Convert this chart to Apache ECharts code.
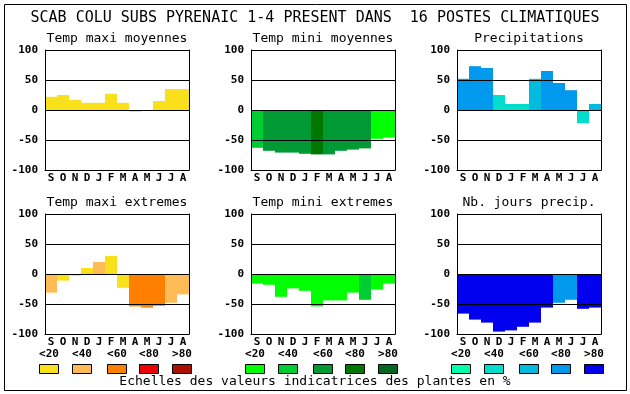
<!DOCTYPE html>
<html><head><meta charset="utf-8">
<script src="https://cdn.jsdelivr.net/npm/echarts@6/dist/echarts.min.js"></script>
<style>html,body{margin:0;padding:0;background:#fff}#c{width:630px;height:394px}</style>
</head><body><div id="c"></div>
<script>
const mainTitle = 'SCAB COLU SUBS PYRENAIC 1-4 PRESENT DANS  16 POSTES CLIMATIQUES';
const months = ['S','O','N','D','J','F','M','A','M','J','J','A'];
const panelTitles = ['Temp maxi moyennes','Temp mini moyennes','Precipitations','Temp maxi extremes','Temp mini extremes','Nb. jours precip.'];
const yMin = -100, yMax = 100, yStep = 50;
const legendLabels = ['<20','<40','<60','<80','>80'];
const footer = 'Echelles des valeurs indicatrices des plantes en %';

// values (% indicator)
const tmaxMoy = [22,25,17,12,12,27,12,-3,0,15,35,35];
const tmaxMoyCls = [0,0,0,0,0,0,0,0,0,0,0,0];
const tminMoy = [-63,-68,-71,-71,-73,-74,-74,-68,-66,-64,-48,-46];
const tminMoyCls = [1,2,2,2,2,3,2,2,2,2,0,0];
const precip = [52,73,70,25,10,10,52,65,45,33,-22,10];
const precipCls = [3,3,3,1,1,1,2,3,3,3,1,2];
const tmaxExt = [-31,-11,-3,10,20,30,-23,-54,-56,-53,-48,-34];
const tmaxExtCls = [1,0,0,0,1,0,0,2,2,2,1,1];
const tminExt = [-16,-18,-38,-24,-28,-54,-44,-44,-31,-43,-26,-16];
const tminExtCls = [0,0,0,0,0,0,0,0,0,1,0,0];
const nbJours = [-66,-76,-81,-96,-94,-88,-81,-56,-48,-43,-58,-56];
const nbJoursCls = [4,4,4,4,4,4,4,4,3,3,4,4];

const warm = ['#f8e11a','#ffbb55','#ff8000','#ee0000','#aa1100'];
const green = ['#00ff00','#00cc33','#009933','#007700','#006622'];
const blue = ['#00ffaa','#00ddcc','#00bbdd','#0099ee','#0000ee'];

const panels = [
  {vals: tmaxMoy, cls: tmaxMoyCls, pal: warm},
  {vals: tminMoy, cls: tminMoyCls, pal: green},
  {vals: precip, cls: precipCls, pal: blue},
  {vals: tmaxExt, cls: tmaxExtCls, pal: warm},
  {vals: tminExt, cls: tminExtCls, pal: green},
  {vals: nbJours, cls: nbJoursCls, pal: blue}
];

const FONT = '"DejaVu Sans Mono", "Liberation Mono", monospace';
const lefts = [45, 251, 457], tops = [50, 214], PW = 144, PH = 120;

const grid = [], xAxis = [], yAxis = [], series = [], graphic = [];
panels.forEach((p, i) => {
  const col = i % 3, row = Math.floor(i / 3);
  const L = lefts[col], T = tops[row];
  grid.push({left: L, top: T, width: PW, height: PH, show: false});
  xAxis.push({type: 'category', gridIndex: i, data: months, position: 'bottom',
    axisLine: {show: true, onZero: false, lineStyle: {color: '#000', width: 1}},
    axisTick: {show: false}, z: 5,
    axisLabel: {interval: 0, margin: 3, color: '#000', fontFamily: FONT, fontWeight: 'bold', fontSize: 11}});
  yAxis.push({type: 'value', gridIndex: i, min: yMin, max: yMax, interval: yStep, z: 5,
    axisLine: {show: true, lineStyle: {color: '#000', width: 1}}, axisTick: {show: false},
    splitLine: {show: true, lineStyle: {color: '#000', width: 1}},
    axisLabel: {margin: 7, color: '#000', fontFamily: FONT, fontWeight: 'bold', fontSize: 11}});
  yAxis.push({type: 'value', gridIndex: i, min: yMin, max: yMax, interval: yStep, position: 'right', z: 5,
    axisLine: {show: true, lineStyle: {color: '#000', width: 1}}, axisTick: {show: false},
    splitLine: {show: false}, axisLabel: {show: false}});
  series.push({type: 'bar', xAxisIndex: i, yAxisIndex: 2 * i, barWidth: '100%', barCategoryGap: 0,
    animation: false, silent: true,
    data: p.vals.map((v, k) => ({value: v, itemStyle: {color: p.pal[p.cls[k]]}}))});
  graphic.push({type: 'text', x: L + PW / 2, y: T - 11, silent: true,
    style: {text: panelTitles[i], font: '13px ' + FONT, fill: '#000', align: 'center', verticalAlign: 'middle'}});
});

// frame and title
graphic.push({type: 'rect', shape: {x: 4.5, y: 4.5, width: 622, height: 386}, style: {fill: null, stroke: '#000', lineWidth: 1}, z: -1});
graphic.push({type: 'text', x: 315, y: 18, style: {text: mainTitle, font: '15px ' + FONT, fill: '#000', align: 'center', verticalAlign: 'middle'}});

// legend
const pals = [warm, green, blue];
const legOffsets = [0, 33, 68, 100, 133];
pals.forEach((pal, g) => {
  pal.forEach((c, k) => {
    const x0 = 39 + g * 206 + legOffsets[k];
    graphic.push({type: 'rect', shape: {x: x0 + 0.5, y: 364.5, width: 19, height: 9}, style: {fill: c, stroke: '#000', lineWidth: 1}});
    graphic.push({type: 'text', x: x0 + 10, y: 354, style: {text: legendLabels[k], font: 'bold 11px ' + FONT, fill: '#000', align: 'center', verticalAlign: 'middle'}});
  });
});
graphic.push({type: 'text', x: 315, y: 382, style: {text: footer, font: '13px ' + FONT, fill: '#000', align: 'center', verticalAlign: 'middle'}});

const chart = echarts.init(document.getElementById('c'), null, {renderer: 'canvas'});
chart.setOption({backgroundColor: '#fff', animation: false, grid, xAxis, yAxis, series, graphic});
</script></body></html>
